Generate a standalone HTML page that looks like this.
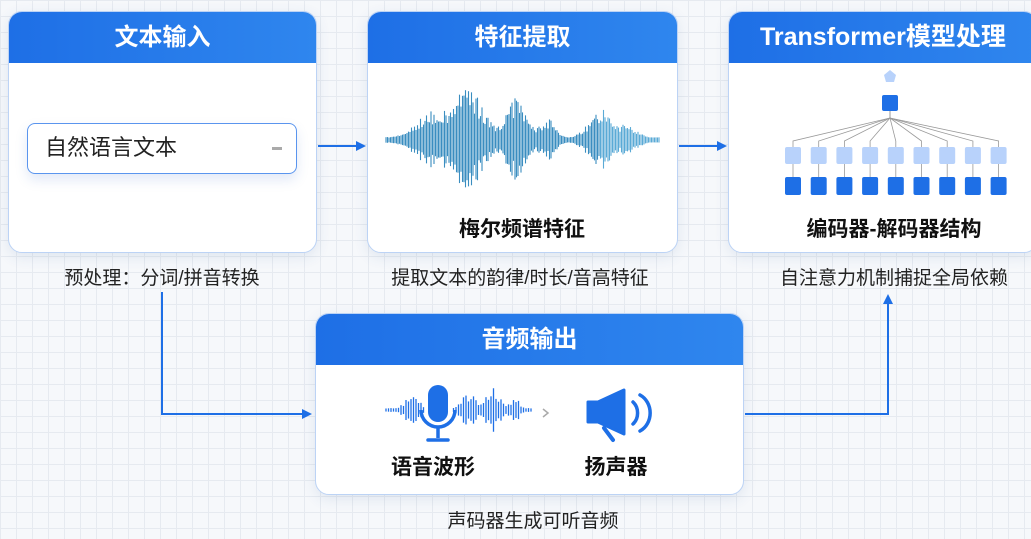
<!DOCTYPE html>
<html><head><meta charset="utf-8">
<style>
*{margin:0;padding:0;box-sizing:border-box}
body{width:1031px;height:539px;overflow:hidden;position:relative;font-family:"Liberation Sans","Noto Sans CJK SC",sans-serif;
background-color:#f6f8fb;background-image:linear-gradient(#e6eaf0 1px,transparent 1px),linear-gradient(90deg,#e6eaf0 1px,transparent 1px);background-size:16px 16px}
.box{position:absolute;background:#fff;border:1.5px solid #bcd3f5;border-radius:14px;overflow:hidden;box-shadow:0 4px 14px rgba(60,100,160,.12)}
.hd{height:51px;background:linear-gradient(90deg,#1e6fe6,#2f86ee);color:#fff;font-weight:bold;font-size:24px;text-align:center;line-height:51px}
.cap{position:absolute;font-size:19px;color:#222;white-space:nowrap;transform:translateX(-50%)}
.lbl{position:absolute;font-size:21px;font-weight:bold;color:#111;white-space:nowrap;transform:translateX(-50%)}
svg{position:absolute;left:0;top:0}
</style></head><body>
<div class="box" style="left:8px;top:11px;width:309px;height:242px"><div class="hd">文本输入</div>
<div style="position:absolute;left:18px;top:111px;width:270px;height:51px;border:1.5px solid #5a95ee;border-radius:8px;box-shadow:0 6px 12px rgba(60,110,200,.15);font-size:22px;line-height:48px;padding-left:17px;color:#222">自然语言文本<span style="position:absolute;right:14px;top:0;color:#aaa;font-size:10px">▬</span></div>
</div>
<div class="box" style="left:367px;top:11px;width:311px;height:242px"><div class="hd">特征提取</div></div>
<div class="box" style="left:728px;top:11px;width:310px;height:242px"><div class="hd" style="text-align:left;padding-left:31px;font-size:25px">Transformer模型处理</div></div>
<div class="box" style="left:315px;top:313px;width:429px;height:182px"><div class="hd">音频输出</div></div>

<div class="lbl" style="left:522px;top:213px">梅尔频谱特征</div>
<div class="lbl" style="left:894px;top:213px">编码器-解码器结构</div>
<div class="lbl" style="left:433px;top:451px">语音波形</div>
<div class="lbl" style="left:616px;top:451px">扬声器</div>

<div class="cap" style="left:162px;top:263px">预处理：分词/拼音转换</div>
<div class="cap" style="left:520px;top:263px">提取文本的韵律/时长/音高特征</div>
<div class="cap" style="left:894px;top:263px">自注意力机制捕捉全局依赖</div>
<div class="cap" style="left:533px;top:506px">声码器生成可听音频</div>

<svg width="1031" height="539" id="s">
<defs><marker id="a" markerWidth="10" markerHeight="10" refX="8" refY="5" orient="auto" markerUnits="userSpaceOnUse"><path d="M0,0 L10,5 L0,10 Z" fill="#1e6fe6"/></marker></defs>
<g stroke="#1e6fe6" stroke-width="2" fill="none">
<line x1="318" y1="146" x2="364" y2="146" marker-end="url(#a)"/>
<line x1="679" y1="146" x2="725" y2="146" marker-end="url(#a)"/>
<polyline points="162,292 162,414 310,414" marker-end="url(#a)"/>
<polyline points="745,414 888,414 888,296" marker-end="url(#a)"/>
</g>
<g id="wave"></g>
<rect x="428" y="385" width="20" height="37" rx="10" fill="#1e6fe6"/>
<path d="M421,410 a17,17 0 0 0 34,0" stroke="#1e6fe6" stroke-width="3.5" fill="none"/>
<line x1="438" y1="427" x2="438" y2="438" stroke="#1e6fe6" stroke-width="3.5"/>
<line x1="428" y1="440" x2="448" y2="440" stroke="#1e6fe6" stroke-width="3.5" stroke-linecap="round"/>
<path d="M543,409 l5,4 l-5,4" stroke="#aaa" stroke-width="1.5" fill="none"/>
<path d="M588,402 h10 l26,-12 v44 l-26,-12 h-10 z" fill="#1e6fe6" stroke="#1e6fe6" stroke-width="3" stroke-linejoin="round"/>
<line x1="604" y1="428" x2="613" y2="440" stroke="#1e6fe6" stroke-width="4" stroke-linecap="round"/>
<path d="M633,402 a12,14 0 0 1 0,22" stroke="#1e6fe6" stroke-width="3.5" fill="none" stroke-linecap="round"/>
<path d="M640,395 a18,20 0 0 1 0,36" stroke="#1e6fe6" stroke-width="3.5" fill="none" stroke-linecap="round"/>
</svg>
<script>
var s="";
function rnd(i){var x=Math.sin(i*12.9898)*43758.5453;return x-Math.floor(x);}
function env(x,pk){var v=1;pk.forEach(function(p){v=Math.max(v,p[1]*Math.exp(-Math.pow((x-p[0])/p[2],2)));});return v;}
var pk=[[467,56,22],[437,30,25],[515,40,16],[547,20,12],[603,30,18],[625,14,15]];
for(var x=386;x<=659;x+=1.5){var h=env(x,pk)*(0.45+0.55*rnd(x*3.1))+2;var c=x<600?"#3a8dc0":"#5aaad6";
s+='<line x1="'+x+'" x2="'+x+'" y1="'+(140-h)+'" y2="'+(140+h*0.95)+'" stroke="'+c+'" stroke-width="1.1"/>';}
var pk2=[[412,14,10],[470,18,10],[492,22,10],[515,10,8]];
for(var x=386;x<=532;x+=2.5){if(x>424&&x<452)continue;var h=env(x,pk2)*(0.4+0.6*rnd(x+7))+1;
s+='<line x1="'+x+'" x2="'+x+'" y1="'+(410-h)+'" y2="'+(410+h)+'" stroke="#1e6fe6" stroke-width="1.3"/>';}
s+='<path d="M884,75 l6,-5 l6,5 l-2,7 h-8 z" fill="#b8d2fb"/>';
s+='<rect x="882" y="95" width="16" height="16" rx="2" fill="#1e6fe6"/>';
for(var i=0;i<9;i++){var cx=793+i*25.7;
s+='<polyline points="890,111 890,118 '+cx+',141 '+cx+',147" stroke="#999" stroke-width="0.8" fill="none"/>';
s+='<line x1="'+cx+'" x2="'+cx+'" y1="164" y2="177" stroke="#999" stroke-width="0.8"/>';
s+='<rect x="'+(cx-8)+'" y="147" width="16" height="17" rx="2" fill="#b8d2fb"/>';
s+='<rect x="'+(cx-8)+'" y="177" width="16" height="18" rx="2" fill="#1e6fe6"/>';}
document.getElementById("wave").innerHTML=s;
</script>
</body></html>
